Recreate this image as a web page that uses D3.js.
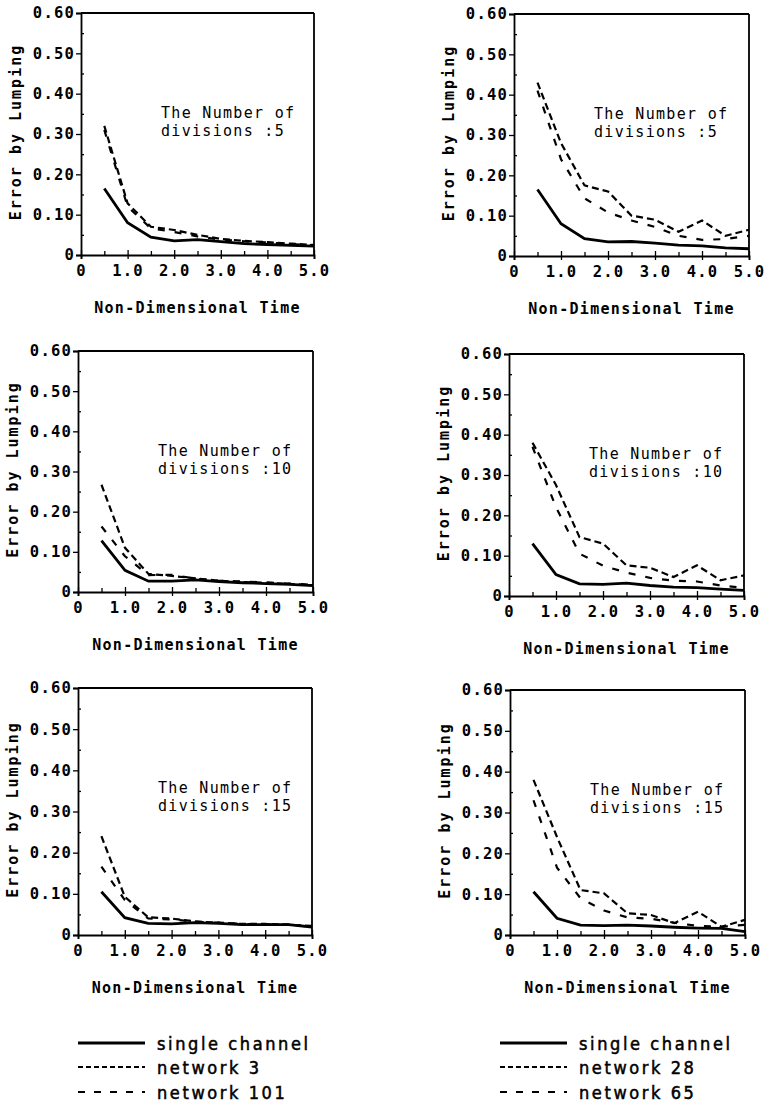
<!DOCTYPE html>
<html>
<head>
<meta charset="utf-8">
<script src="https://cdn.jsdelivr.net/npm/d3@7"></script>
<style>
  body { margin: 0; background: #fff; }
</style>
</head>
<body>
<div id="canvas"></div>
<script>
"use strict"

/* Data: time steps and error values per panel */
let times = [0.5, 1.0, 1.5, 2.0, 2.5, 3.0, 3.5, 4.0, 4.5, 5.0];
let yTicks = [0, 0.1, 0.2, 0.3, 0.4, 0.5, 0.6];
let yTickLabels = ["0", "0.10", "0.20", "0.30", "0.40", "0.50", "0.60"];
let xTicks = [0, 1, 2, 3, 4, 5];
let xTickLabels = ["0", "1.0", "2.0", "3.0", "4.0", "5.0"];
let divisions = [5, 10, 15];

/* left column: single channel, network 3, network 101 */
let single5L = [0.165, 0.080, 0.044, 0.035, 0.038, 0.033, 0.028, 0.026, 0.024, 0.022];
let net3_5 = [0.320, 0.128, 0.070, 0.062, 0.050, 0.040, 0.035, 0.032, 0.028, 0.025];
let net101_5 = [0.310, 0.120, 0.066, 0.057, 0.046, 0.038, 0.034, 0.031, 0.027, 0.024];

let single10L = [0.128, 0.054, 0.027, 0.027, 0.030, 0.026, 0.023, 0.021, 0.019, 0.016];
let net3_10 = [0.267, 0.110, 0.045, 0.040, 0.034, 0.028, 0.025, 0.023, 0.020, 0.017];
let net101_10 = [0.163, 0.089, 0.042, 0.043, 0.033, 0.028, 0.026, 0.024, 0.021, 0.018];

let single15L = [0.105, 0.042, 0.028, 0.027, 0.030, 0.028, 0.025, 0.025, 0.025, 0.019];
let net3_15 = [0.240, 0.093, 0.043, 0.040, 0.033, 0.030, 0.027, 0.027, 0.025, 0.022];
let net101_15 = [0.166, 0.085, 0.040, 0.038, 0.032, 0.030, 0.027, 0.026, 0.025, 0.020];

/* right column: single channel, network 28, network 65 */
let single5R = [0.165, 0.080, 0.043, 0.035, 0.036, 0.032, 0.027, 0.025, 0.020, 0.018];
let net28_5 = [0.430, 0.280, 0.175, 0.160, 0.100, 0.090, 0.060, 0.088, 0.050, 0.065];
let net65_5 = [0.410, 0.240, 0.143, 0.108, 0.088, 0.072, 0.050, 0.040, 0.042, 0.050];

let single10R = [0.130, 0.053, 0.030, 0.029, 0.032, 0.026, 0.022, 0.021, 0.017, 0.014];
let net28_10 = [0.380, 0.275, 0.146, 0.130, 0.076, 0.070, 0.047, 0.076, 0.039, 0.051];
let net65_10 = [0.370, 0.220, 0.105, 0.075, 0.058, 0.045, 0.038, 0.036, 0.026, 0.020];

let single15R = [0.106, 0.041, 0.024, 0.023, 0.024, 0.022, 0.019, 0.017, 0.016, 0.008];
let net28_15 = [0.380, 0.240, 0.110, 0.102, 0.053, 0.049, 0.029, 0.057, 0.020, 0.037];
let net65_15 = [0.330, 0.165, 0.090, 0.060, 0.043, 0.040, 0.030, 0.022, 0.020, 0.025];

let legendLeft = ["single channel", "network 3", "network 101"];
let legendRight = ["single channel", "network 28", "network 65"];

/* line styles: solid, short dash, long dash */
let styles = [
    {dash: null, width: 2.8},
    {dash: "7,4", width: 2.2},
    {dash: "7,10", width: 2.2}
];

let drawing = d3.select("#canvas")
    .append("svg")
    .attr("width", 766)
    .attr("height", 1106);

let tickFont = "'DejaVu Sans Mono', monospace";

/* panel boxes in pixels */
let panels = [
    {l: 81, r: 314, t: 13, b: 255, series: [single5L, net3_5, net101_5], div: divisions[0]},
    {l: 514, r: 749, t: 14, b: 256, series: [single5R, net28_5, net65_5], div: divisions[0]},
    {l: 78, r: 313, t: 351, b: 592, series: [single10L, net3_10, net101_10], div: divisions[1]},
    {l: 509, r: 744, t: 354, b: 596, series: [single10R, net28_10, net65_10], div: divisions[1]},
    {l: 78, r: 312, t: 688, b: 935, series: [single15L, net3_15, net101_15], div: divisions[2]},
    {l: 510, r: 745, t: 690, b: 935, series: [single15R, net28_15, net65_15], div: divisions[2]}
];

panels.forEach(function (p) {
    let x = d3.scaleLinear().domain([0, 5]).range([p.l, p.r]);
    let y = d3.scaleLinear().domain([0, 0.6]).range([p.b, p.t]);
    let g = drawing.append("g");

    /* frame: top and right */
    g.append("line")
        .attr("x1", p.l).attr("x2", p.r)
        .attr("y1", p.t).attr("y2", p.t)
        .attr("stroke", "black").attr("stroke-width", 1.8);
    g.append("line")
        .attr("x1", p.r).attr("x2", p.r)
        .attr("y1", p.t).attr("y2", p.b)
        .attr("stroke", "black").attr("stroke-width", 1.8);

    /* minor ticks, pointing inward */
    let yMinor = g.append("g")
        .attr("transform", "translate(" + p.l + ",0)")
        .call(d3.axisRight(y).tickValues(d3.range(0.05, 0.6, 0.1)).tickSize(3).tickFormat(""));
    yMinor.select(".domain").remove();
    let xMinor = g.append("g")
        .attr("transform", "translate(0," + p.b + ")")
        .call(d3.axisTop(x).tickValues(d3.range(0.5, 5, 1)).tickSize(4).tickFormat(""));
    xMinor.select(".domain").remove();
    let xMajorIn = g.append("g")
        .attr("transform", "translate(0," + p.b + ")")
        .call(d3.axisTop(x).tickValues(xTicks).tickSize(5).tickFormat(""));
    xMajorIn.select(".domain").remove();

    /* y axis */
    let yAxis = g.append("g")
        .attr("transform", "translate(" + p.l + ",0)")
        .call(d3.axisLeft(y).tickValues(yTicks).tickSize(5).tickPadding(1)
            .tickFormat(function (d, i) { return yTickLabels[i]; }));
    yAxis.selectAll("text")
        .attr("font-family", tickFont)
        .attr("font-weight", "bold")
        .attr("font-size", 15.5)
        .attr("letter-spacing", 1.2)
        .attr("fill", "black");

    /* x axis */
    let xAxis = g.append("g")
        .attr("transform", "translate(0," + p.b + ")")
        .call(d3.axisBottom(x).tickValues(xTicks).tickSize(4).tickPadding(6)
            .tickFormat(function (d, i) { return xTickLabels[i]; }));
    xAxis.selectAll("text")
        .attr("font-family", tickFont)
        .attr("font-weight", "bold")
        .attr("font-size", 15.5)
        .attr("letter-spacing", 1.2)
        .attr("fill", "black");

    g.selectAll(".domain").attr("stroke-width", 1.8);
    g.selectAll(".tick line").attr("stroke-width", 1.3);

    /* axis titles */
    g.append("text")
        .attr("x", (p.l + p.r) / 2)
        .attr("y", p.b + 58)
        .attr("text-anchor", "middle")
        .attr("font-family", tickFont)
        .attr("font-weight", "bold")
        .attr("font-size", 15)
        .attr("letter-spacing", 1.3)
        .text("Non-Dimensional Time");

    g.append("text")
        .attr("transform", "translate(" + (p.l - 60) + "," + ((p.t + p.b) / 2 - 2) + ") rotate(-90)")
        .attr("text-anchor", "middle")
        .attr("font-family", tickFont)
        .attr("font-weight", "bold")
        .attr("font-size", 15)
        .attr("letter-spacing", 2)
        .text("Error by Lumping");

    /* annotation */
    let note = g.append("text")
        .attr("font-family", tickFont)
        .attr("font-size", 15)
        .attr("letter-spacing", 1.3);
    note.append("tspan")
        .attr("x", p.l + 80).attr("y", p.t + 105)
        .text("The Number of");
    note.append("tspan")
        .attr("x", p.l + 80).attr("y", p.t + 123)
        .text("divisions :" + p.div);

    /* series lines */
    let line = d3.line()
        .x(function (d, i) { return x(times[i]); })
        .y(function (d) { return y(d); });

    p.series.forEach(function (s, k) {
        g.append("path")
            .datum(s)
            .attr("d", line)
            .attr("fill", "none")
            .attr("stroke", "black")
            .attr("stroke-width", styles[k].width)
            .attr("stroke-dasharray", styles[k].dash);
    });
});

/* legends below the panels */
let legendRows = [1043, 1067, 1092];
let legendStyles = [
    {dash: null, width: 2.8},
    {dash: "5,3", width: 1.8},
    {dash: "7,9", width: 2}
];

function drawLegend(x0, labels) {
    labels.forEach(function (label, i) {
        drawing.append("line")
            .attr("x1", x0).attr("x2", x0 + 67)
            .attr("y1", legendRows[i]).attr("y2", legendRows[i])
            .attr("stroke", "black")
            .attr("stroke-width", legendStyles[i].width)
            .attr("stroke-dasharray", legendStyles[i].dash);
        drawing.append("text")
            .attr("x", x0 + 79)
            .attr("y", legendRows[i] + 7)
            .attr("font-family", "'DejaVu Sans Condensed', 'Liberation Sans Narrow', sans-serif")
            .attr("font-size", 18)
            .attr("letter-spacing", 2.6)
            .attr("stroke", "black")
            .attr("stroke-width", 0.5)
            .text(label);
    });
}

drawLegend(78, legendLeft);
drawLegend(500, legendRight);
</script>
</body>
</html>
